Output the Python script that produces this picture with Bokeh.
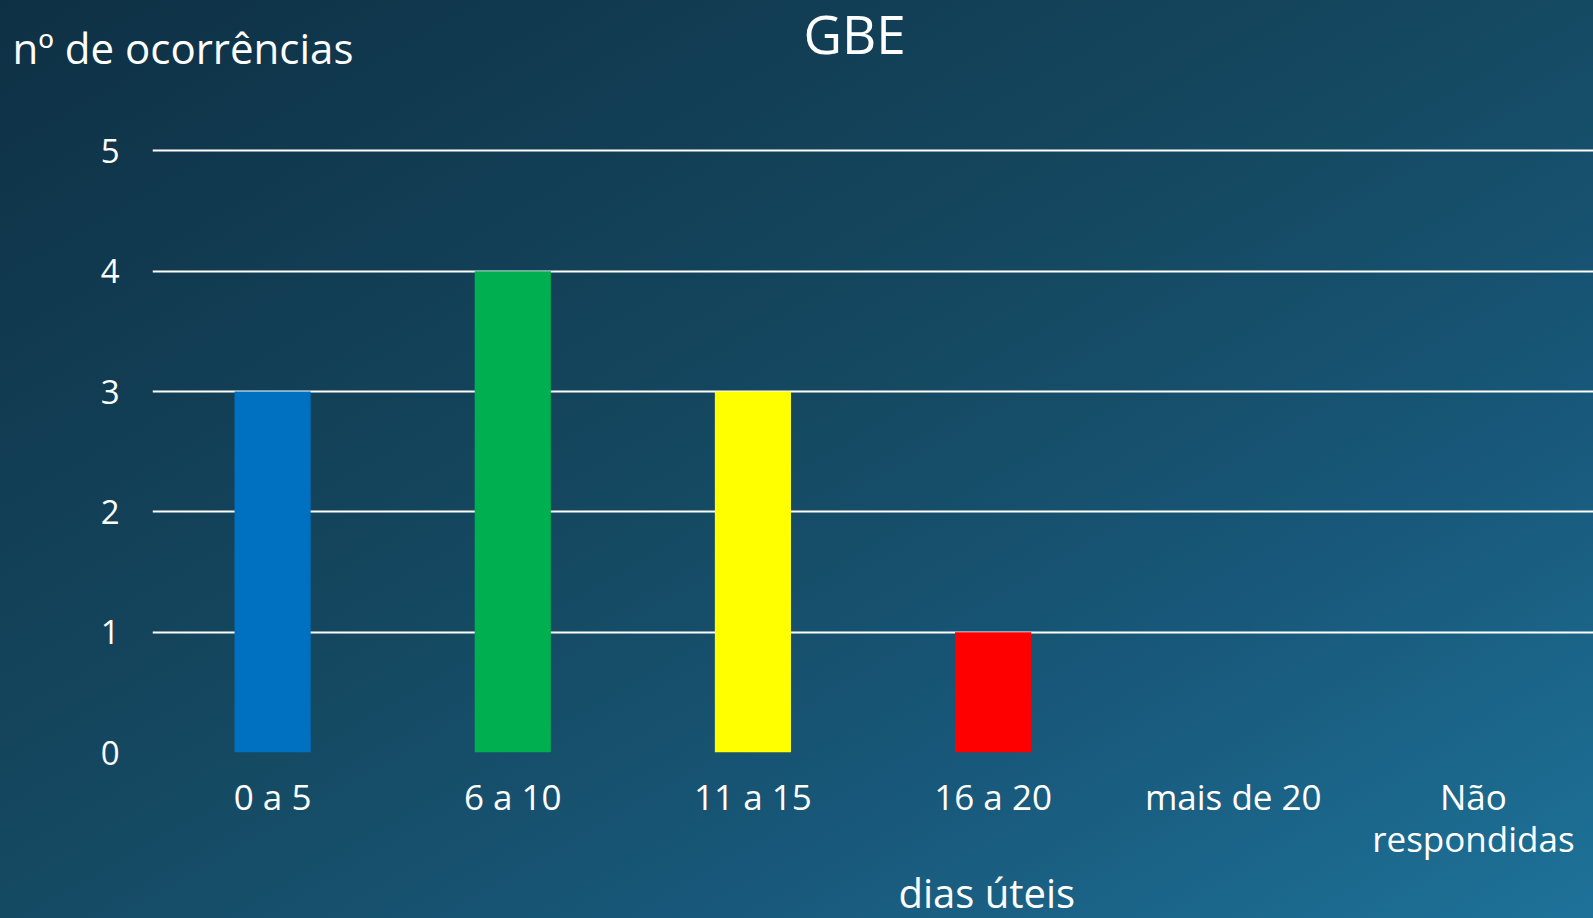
from bokeh.plotting import figure
from bokeh.models import Title, FactorRange, Range1d, SingleIntervalTicker
from bokeh.embed import file_html
from bokeh.resources import INLINE

categories = ["0 a 5", "6 a 10", "11 a 15", "16 a 20", "mais de 20", "Não\nrespondidas"]
counts = [3, 4, 3, 1, 0, 0]
colors = ["#0070C0", "#00B050", "#FFFF00", "#FF0000", "#7F7F7F", "#7F7F7F"]
title_text = "GBE"
y_label = "nº de ocorrências"
x_label = "dias úteis"

FONT = "Open Sans"

p = figure(
    x_range=FactorRange(*categories, range_padding=0),
    y_range=Range1d(0, 5.02),
    width=1593, height=918,
    output_backend="svg", toolbar_location=None,
    min_border_left=152, min_border_right=0, min_border_top=148, min_border_bottom=166,
)
p.styles = {"background": "linear-gradient(to bottom right, #0e3044 0%, #154a63 50%, #18587a 72%, #1e7299 100%)"}
p.background_fill_alpha = 0
p.border_fill_alpha = 0
p.outline_line_color = None

p.vbar(x=categories, top=counts, width=0.317, color=colors, line_color=None)

p.xgrid.grid_line_color = None
p.ygrid.grid_line_color = "white"
p.ygrid.grid_line_width = 2
p.ygrid.grid_line_alpha = 1
p.yaxis.ticker = SingleIntervalTicker(interval=1)

for ax in (p.xaxis, p.yaxis):
    ax.axis_line_color = None
    ax.major_tick_line_color = None
    ax.minor_tick_line_color = None
    ax.major_label_text_color = "white"
    ax.major_label_text_font = FONT
p.xaxis.major_label_text_font_size = "35px"
p.xaxis.major_label_text_line_height = 0.9
p.yaxis.major_label_text_font_size = "33px"
p.xaxis.major_label_standoff = 14
p.yaxis.major_label_standoff = 27

p.add_layout(Title(text=y_label, align="left", offset=-140, standoff=-260, vertical_align="top",
                   text_color="white", text_font=FONT, text_font_size="42px",
                   text_font_style="normal"), "above")
p.add_layout(Title(text=title_text, align="left", offset=651, standoff=-303, vertical_align="top",
                   text_color="white", text_font=FONT, text_font_size="53px",
                   text_font_style="normal"), "above")
p.add_layout(Title(text=x_label, align="left", offset=746, standoff=-4,
                   text_color="white", text_font=FONT, text_font_size="40px",
                   text_font_style="normal"), "below")

open("out.html", "w").write(file_html(p, INLINE))
